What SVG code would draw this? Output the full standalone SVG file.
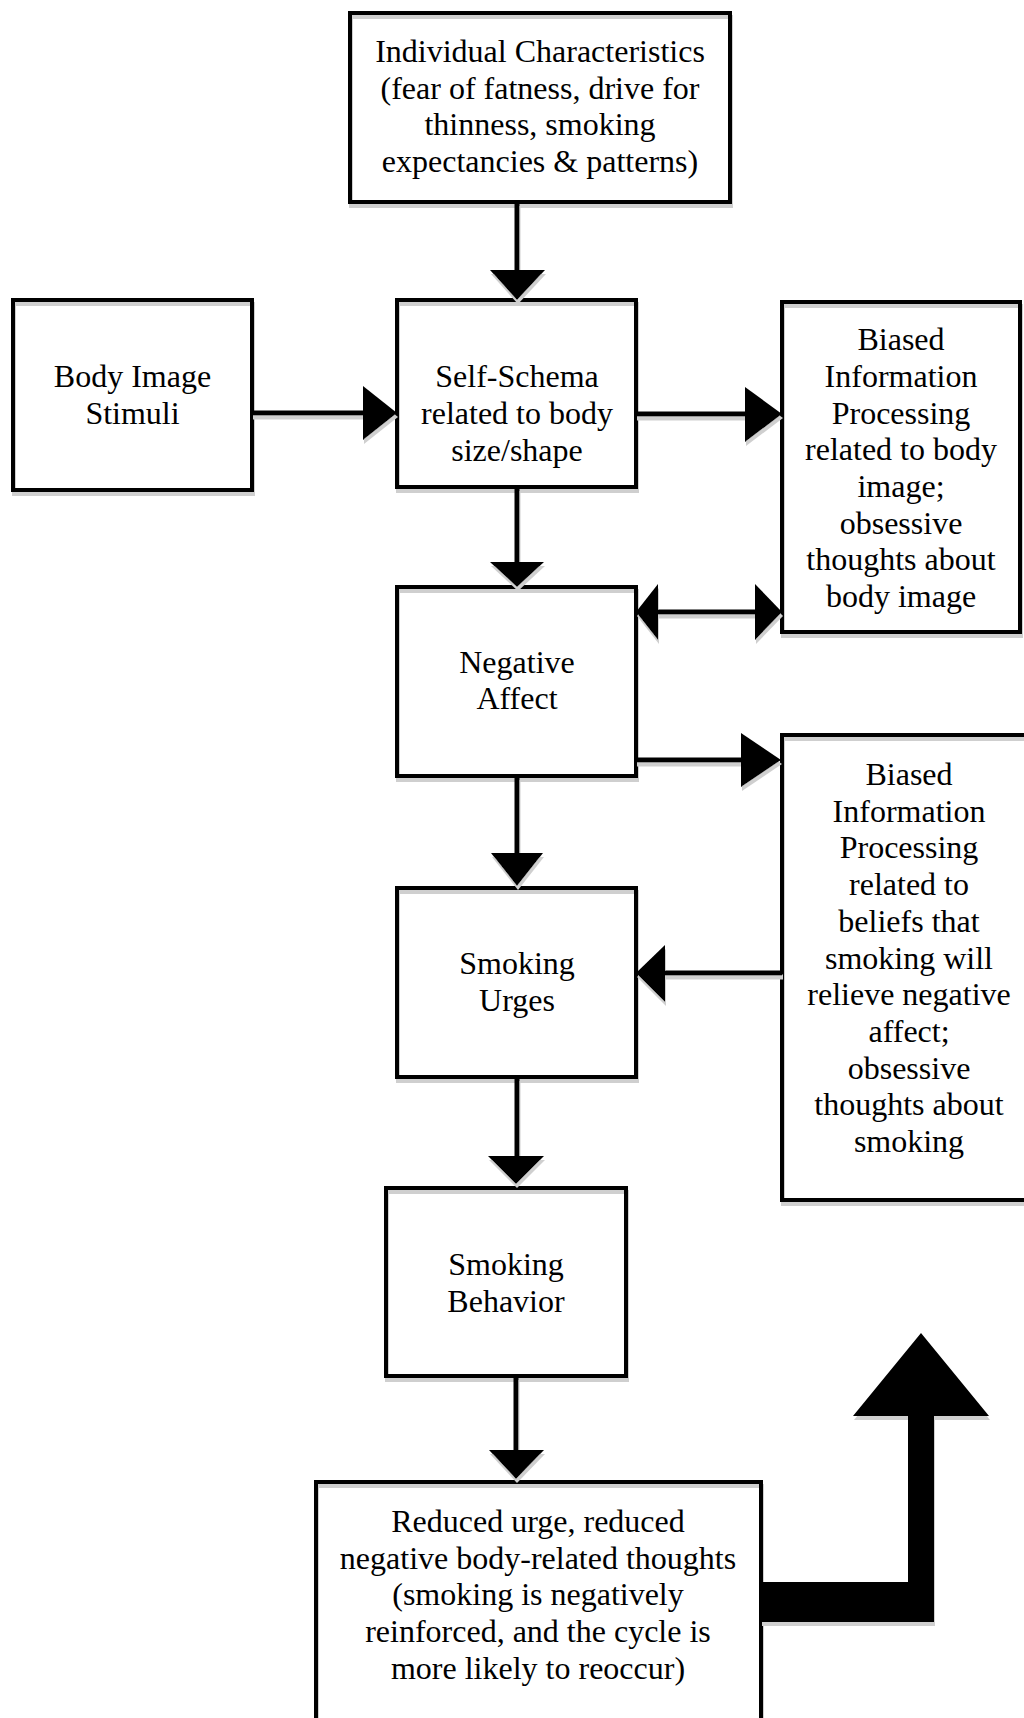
<svg xmlns="http://www.w3.org/2000/svg" width="1024" height="1718" viewBox="0 0 1024 1718">
<defs>
<filter id="sh" x="-10%" y="-10%" width="120%" height="120%">
<feOffset in="SourceAlpha" dx="0.5" dy="4" result="o"/>
<feFlood flood-color="#cfcfcf"/>
<feComposite in2="o" operator="in" result="s"/>
<feMerge><feMergeNode in="s"/><feMergeNode in="SourceGraphic"/></feMerge>
</filter>
</defs>
<style>
.box{fill:none;stroke:#000;stroke-width:4;filter:url(#sh)}
.t{font-family:"Liberation Serif","Times New Roman",serif;font-size:32px;fill:#000;text-anchor:middle}
.ln{stroke:#000;stroke-width:5;fill:none}
.hd{fill:#000;stroke:none}
</style>
<rect width="1024" height="1718" fill="#fff"/>

<g id="individual">
<rect class="box" x="350" y="13" width="380" height="189"/>
<text class="t"><tspan x="540" y="62">Individual Characteristics</tspan><tspan x="540" y="98.7">(fear of fatness, drive for</tspan><tspan x="540" y="135.4">thinness, smoking</tspan><tspan x="540" y="172">expectancies &amp; patterns)</tspan></text>
</g>

<g id="body-image">
<rect class="box" x="13" y="300" width="239" height="190"/>
<text class="t"><tspan x="132.5" y="387">Body Image</tspan><tspan x="132.5" y="424">Stimuli</tspan></text>
</g>

<g id="self-schema">
<rect class="box" x="397" y="300" width="239" height="187"/>
<text class="t"><tspan x="517" y="387">Self-Schema</tspan><tspan x="517" y="424">related to body</tspan><tspan x="517" y="461">size/shape</tspan></text>
</g>

<g id="biased-body">
<rect class="box" x="782" y="302" width="238" height="330"/>
<text class="t"><tspan x="901" y="350">Biased</tspan><tspan x="901" y="387">Information</tspan><tspan x="901" y="423.5">Processing</tspan><tspan x="901" y="460">related to body</tspan><tspan x="901" y="497">image;</tspan><tspan x="901" y="533.5">obsessive</tspan><tspan x="901" y="570">thoughts about</tspan><tspan x="901" y="607">body image</tspan></text>
</g>

<g id="negative-affect">
<rect class="box" x="397" y="587" width="239" height="189"/>
<text class="t"><tspan x="517" y="673">Negative</tspan><tspan x="517" y="709">Affect</tspan></text>
</g>

<g id="biased-smoking">
<rect class="box" x="782" y="735" width="256" height="465"/>
<text class="t"><tspan x="909" y="785">Biased</tspan><tspan x="909" y="821.7">Information</tspan><tspan x="909" y="858.4">Processing</tspan><tspan x="909" y="895.1">related to</tspan><tspan x="909" y="931.8">beliefs that</tspan><tspan x="909" y="968.5">smoking will</tspan><tspan x="909" y="1005.2">relieve negative</tspan><tspan x="909" y="1041.9">affect;</tspan><tspan x="909" y="1078.6">obsessive</tspan><tspan x="909" y="1115.3">thoughts about</tspan><tspan x="909" y="1152">smoking</tspan></text>
</g>

<g id="smoking-urges">
<rect class="box" x="397" y="888" width="239" height="189"/>
<text class="t"><tspan x="517" y="974">Smoking</tspan><tspan x="517" y="1011">Urges</tspan></text>
</g>

<g id="smoking-behavior">
<rect class="box" x="386" y="1188" width="240" height="188"/>
<text class="t"><tspan x="506" y="1275">Smoking</tspan><tspan x="506" y="1312">Behavior</tspan></text>
</g>

<g id="reduced">
<rect class="box" x="316" y="1482" width="445" height="260"/>
<text class="t"><tspan x="538" y="1532">Reduced urge, reduced</tspan><tspan x="538" y="1568.7">negative body-related thoughts</tspan><tspan x="538" y="1605.4">(smoking is negatively</tspan><tspan x="538" y="1642.1">reinforced, and the cycle is</tspan><tspan x="538" y="1678.8">more likely to reoccur)</tspan></text>
</g>

<g id="connectors" filter="url(#sh)">
<line class="ln" x1="517" y1="202" x2="517" y2="272"/>
<polygon class="hd" points="490,270 545,270 517,300"/>
<line class="ln" x1="252" y1="413" x2="365" y2="413"/>
<polygon class="hd" points="363,386 363,440 397,413"/>
<line class="ln" x1="636" y1="414" x2="747" y2="414"/>
<polygon class="hd" points="745,387 745,442 782,414"/>
<line class="ln" x1="517" y1="487" x2="517" y2="564"/>
<polygon class="hd" points="490,562 544,562 517,587"/>
<line class="ln" x1="656" y1="612" x2="757" y2="612"/>
<polygon class="hd" points="658,584 658,640 636,612"/>
<polygon class="hd" points="755,584 755,640 782,612"/>
<line class="ln" x1="636" y1="760" x2="743" y2="760"/>
<polygon class="hd" points="741,733 741,787 781,760"/>
<line class="ln" x1="517" y1="776" x2="517" y2="855"/>
<polygon class="hd" points="491,853 543,853 517,886"/>
<line class="ln" x1="782" y1="973" x2="663" y2="973"/>
<polygon class="hd" points="665,945 665,1002 636,973"/>
<line class="ln" x1="517" y1="1077" x2="517" y2="1158"/>
<polygon class="hd" points="488,1156 544,1156 516,1184"/>
<line class="ln" x1="516" y1="1376" x2="516" y2="1452"/>
<polygon class="hd" points="489,1450 544,1450 516,1479"/>
<polygon class="hd" points="761,1582 908,1582 908,1416 853,1416 921,1333 989,1416 934,1416 934,1622 761,1622"/>
</g>
</svg>
